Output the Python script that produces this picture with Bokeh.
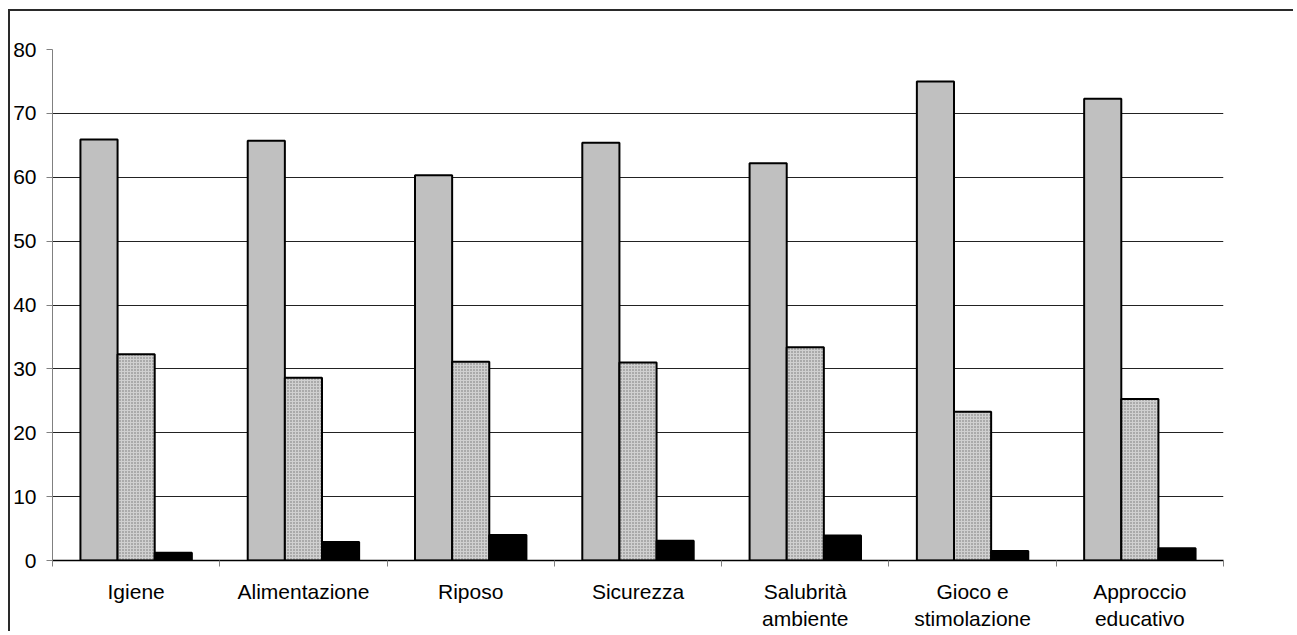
from bokeh.plotting import figure
from bokeh.models import Range1d, FixedTicker
from bokeh.embed import file_html
from bokeh.resources import INLINE

categories = ["Igiene", "Alimentazione", "Riposo", "Sicurezza",
              "Salubrità\nambiente", "Gioco e\nstimolazione", "Approccio\neducativo"]
serie_1 = [65.9, 65.7, 60.3, 65.4, 62.2, 75.0, 72.3]
serie_2 = [32.3, 28.6, 31.1, 31.0, 33.4, 23.3, 25.3]
serie_3 = [1.2, 2.9, 4.0, 3.1, 3.9, 1.5, 1.9]
y_ticks = [0, 10, 20, 30, 40, 50, 60, 70, 80]

FONT = "Liberation Sans"
n = len(categories)
bw = 0.222
centers = [i + 0.5 for i in range(n)]

p = figure(width=1285, height=622, x_range=Range1d(0, n), y_range=Range1d(0, 80),
           output_backend="svg", toolbar_location=None,
           min_border_left=40, min_border_top=38, min_border_bottom=72, min_border_right=72)
p.outline_line_color = None
p.background_fill_color = "white"
p.border_fill_color = "white"
p.styles = {"border-left": "2px solid #2a2a2a", "border-top": "2px solid #2a2a2a",
            "margin-left": "8px", "margin-top": "9px"}

p.vbar(x=[c - bw for c in centers], top=serie_1, bottom=0, width=bw,
       fill_color="#c0c0c0", line_color="black", line_width=2)
p.vbar(x=centers, top=serie_2, bottom=0, width=bw,
       fill_color="#d0d0d0", hatch_pattern="dot", hatch_color="#707070",
       hatch_scale=3, hatch_weight=1, line_color="black", line_width=2)
p.vbar(x=[c + bw for c in centers], top=serie_3, bottom=0, width=bw,
       fill_color="black", line_color="black", line_width=2)

# grid
p.xgrid.grid_line_color = None
p.ygrid.ticker = FixedTicker(ticks=y_ticks)
p.ygrid.grid_line_color = "#222222"
p.ygrid.grid_line_width = 1

# y axis
ya = p.yaxis[0]
ya.ticker = FixedTicker(ticks=y_ticks)
ya.axis_line_color = "#808080"
ya.major_tick_line_color = "#808080"
ya.major_tick_out = 6
ya.major_tick_in = 0
ya.minor_tick_out = 0
ya.minor_tick_in = 0
ya.major_label_standoff = 10
ya.major_label_text_font = FONT
ya.major_label_text_font_size = "21px"
ya.major_label_text_color = "black"

# x axis
xa = p.xaxis[0]
xa.ticker = FixedTicker(ticks=centers, minor_ticks=list(range(n + 1)))
xa.major_label_overrides = {c: lab for c, lab in zip(centers, categories)}
xa.axis_line_color = "black"
xa.axis_line_width = 1.5
xa.major_tick_out = 0
xa.major_tick_in = 0
xa.minor_tick_out = 6
xa.minor_tick_in = 0
xa.minor_tick_line_color = "#808080"
xa.major_label_standoff = 13
xa.major_label_text_font = FONT
xa.major_label_text_font_size = "21px"
xa.major_label_text_color = "black"

open("out.html", "w").write(file_html(p, INLINE))
